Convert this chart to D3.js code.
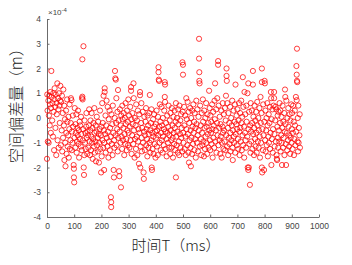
<!DOCTYPE html>
<html>
<head>
<meta charset="utf-8">
<script src="https://cdn.jsdelivr.net/npm/d3@7"></script>
<style>
  body { margin: 0; background: #fff; }
  svg { display: block; }
</style>
</head>
<body>
<svg id="chart" width="352" height="265"></svg>
<script>
// Tick values and axis text
var xTicks = [0, 100, 200, 300, 400, 500, 600, 700, 800, 900, 1000];
var yTicks = [-4, -3, -2, -1, 0, 1, 2, 3, 4];
var xTitle = "时间T（ms）";
var yTitle = "空间偏差量（m）";

// Samples: [time in ms, offset in units of 1e-4 m]
var samples = [
  [0,-1.65],[1,0.95],[2,0.3],[3,-0.95],[5,0.7],[6,-1.0],[7,0.1],[8,0.9],[10,-0.3],[11,0.55],[12,1.05],[14,-0.6],[15,0.4],[16,1.9],[17,0.85],[19,-0.1],[20,0.6],[22,-0.75],[23,1.0],[24,0.25],[26,-1.3],[27,0.75],[28,1.2],[30,0.45],[31,-0.4],[32,0.95],[34,-1.5],[35,0.6],[36,0.15],[38,1.4],[39,-0.9],[40,0.8],[42,0.35],[43,-1.2],[44,1.0],[46,0.5],[47,-0.2],[48,0.7],[49,1.3],
  [51,-1.1],[52,0.65],[54,-0.5],[55,0.9],[56,-1.35],[58,0.2],[59,-0.8],[60,1.15],[62,-0.3],[63,0.5],[64,-1.7],[66,-0.05],[67,-1.0],[68,-1.95],[70,0.3],[71,-0.6],[72,-1.45],[74,0.75],[75,-0.15],[76,-1.15],[78,-0.7],[79,0.05],[80,-1.6],[82,-0.45],[83,0.55],[84,-1.25],[86,-0.9],[87,-0.2],[88,0.8],[90,0.72],[91,-1.3],[92,-0.55],[94,-1.0],[95,0.1],[96,-0.35],[98,-1.9],[99,-2.05],[99,-2.4],[100,-2.6],
  [101,-0.8],[102,0.4],[104,-1.2],[105,-0.25],[106,-0.6],[108,0.15],[109,-1.4],[110,-0.95],[112,-0.4],[113,-0.7],[114,0.3],[116,-1.05],[117,-0.5],[118,-1.6],[120,-0.15],[121,-0.85],[122,-0.3],[124,-1.15],[125,0.05],[126,-0.65],[128,-1.3],[129,0.8],[130,0.86],[130,2.37],[131,0.75],[132,-0.9],[133,-0.45],[134,2.9],[135,-2.0],[136,-2.3],[137,-1.5],[138,-0.1],[140,-1.0],[141,-0.6],[142,-1.25],[144,-0.35],[145,0.2],[146,-0.8],[148,-1.45],[149,-0.55],
  [151,-0.7],[152,-1.2],[154,-0.3],[155,0.35],[156,-0.95],[158,-1.5],[159,-0.5],[160,-0.1],[162,-1.3],[163,-0.75],[164,0.2],[166,-1.0],[167,-0.4],[168,-1.65],[170,-0.85],[171,-0.2],[172,-1.15],[174,0.4],[175,-0.6],[176,-1.4],[178,-0.95],[179,-0.3],[180,-1.75],[182,-0.55],[183,0.05],[184,-1.1],[186,-0.8],[187,-1.35],[188,-0.15],[190,-0.65],[191,-1.8],[192,-1.0],[194,-0.45],[195,0.3],[196,-1.25],[198,-0.7],[199,-2.2],
  [200,-0.35],[201,-1.55],[203,0.6],[204,-0.9],[205,-0.2],[207,-1.2],[208,0.9],[209,-0.5],[210,-2.1],[211,-1.0],[212,1.2],[212,1.05],[214,-0.65],[215,0.1],[216,-1.4],[218,-0.3],[219,0.7],[220,-0.8],[222,-1.15],[223,0.45],[224,-0.55],[226,-1.6],[227,-0.05],[228,-0.95],[230,0.3],[231,-1.3],[232,-0.4],[234,-0.75],[235,-3.2],[236,-3.4],[236,-3.6],[237,0.15],[238,-1.05],[240,-0.25],[241,-1.5],[242,0.5],[244,-0.6],[245,-2.1],[246,-2.4],[247,-0.9],[248,-1.2],[249,0.0],
  [250,1.9],[251,1.6],[253,1.55],[252,-0.7],[254,-0.2],[255,0.8],[256,-1.1],[258,-0.45],[259,0.25],[260,-1.35],[261,1.13],[262,-0.8],[263,-0.1],[265,-2.15],[266,-2.35],[267,-0.55],[268,0.35],[270,-1.0],[271,-0.3],[272,-2.8],[273,0.1],[274,-0.75],[276,-1.25],[277,0.5],[278,-0.05],[280,-0.9],[281,-0.4],[282,0.2],[284,-1.5],[285,-0.65],[286,0.0],[288,-1.05],[289,0.6],[290,-0.25],[292,-0.85],[293,-1.3],[294,0.3],[296,-0.5],[297,-0.15],[298,-1.1],[299,0.75],
  [300,-0.6],[302,0.1],[303,-1.2],[304,-0.35],[306,0.45],[307,-0.9],[309,1.25],[309,1.1],[310,-0.05],[311,-1.45],[313,-0.7],[314,0.2],[315,-0.25],[317,-1.05],[318,1.4],[319,0.8],[320,-0.5],[322,-1.6],[323,0.0],[324,-0.85],[326,-0.3],[327,-1.25],[328,0.55],[330,-0.75],[331,-0.1],[332,-1.5],[334,0.3],[335,-0.95],[336,-0.45],[338,-1.85],[339,0.15],[340,-0.6],[342,1.05],[342,0.92],[343,-2.0],[344,-1.15],[346,-0.2],[347,0.6],[348,-0.8],[349,-1.35],
  [350,-0.4],[352,0.25],[353,-1.0],[355,-2.2],[356,-2.46],[357,-0.55],[358,0.05],[360,-1.3],[361,-0.7],[362,-0.15],[364,0.4],[365,-1.1],[366,-0.45],[368,-0.85],[369,-1.55],[370,0.1],[372,-0.3],[373,-1.2],[374,-0.65],[376,0.2],[377,-1.0],[378,0.93],[379,-0.5],[380,-1.4],[382,-0.2],[383,-0.9],[384,0.35],[385,-2.0],[386,-2.1],[387,-0.6],[388,-1.25],[390,-0.05],[391,-0.75],[392,-1.45],[394,0.15],[395,-0.35],[396,-1.05],[398,-0.55],[399,-1.6],
  [400,-0.25],[401,-0.8],[403,0.3],[404,-1.15],[405,-0.5],[407,-1.5],[408,0.05],[409,-0.7],[410,2.05],[410,1.85],[411,1.55],[412,1.5],[413,-0.35],[414,-1.0],[415,0.55],[417,-0.15],[418,-1.3],[419,-0.6],[421,0.45],[422,-0.9],[423,-0.3],[425,-1.4],[426,0.0],[427,-0.75],[429,-1.1],[430,-0.45],[431,0.3],[433,1.45],[433,0.85],[434,0.65],[434,1.35],[435,-0.55],[436,-1.25],[438,-0.2],[439,-0.85],[440,-1.55],[442,0.1],[443,-0.6],[445,-1.0],[446,-0.35],[447,0.5],[449,-1.2],
  [450,-0.7],[451,-0.1],[453,-1.45],[454,0.2],[455,-0.5],[457,-0.9],[458,-1.2],[459,0.4],[461,-0.3],[462,-0.8],[463,-1.6],[465,0.05],[466,-0.6],[467,-1.05],[469,0.3],[470,-0.4],[471,-1.3],[473,-0.15],[474,0.6],[474,-2.4],[475,-0.75],[477,-1.1],[478,0.0],[479,-0.55],[481,-1.4],[482,0.35],[483,-0.25],[485,-0.95],[486,-1.5],[487,0.5],[489,-0.65],[490,-0.1],[491,-1.2],[493,0.15],[494,-0.8],[495,-0.4],[497,-1.35],[498,2.25],[500,2.15],[500,1.75],[499,0.25],
  [501,-0.6],[502,-1.0],[504,0.45],[505,-0.3],[506,-1.25],[508,0.1],[509,-0.75],[510,-1.5],[512,0.8],[513,-0.45],[514,-0.05],[516,-1.1],[517,0.65],[518,-0.65],[520,-1.4],[521,0.25],[522,-1.8],[523,-0.2],[524,-0.9],[526,0.4],[527,-1.2],[529,-1.95],[528,-0.5],[530,0.0],[531,-0.8],[533,-1.45],[534,0.3],[535,-0.35],[537,-1.05],[538,0.55],[539,-0.6],[541,-0.15],[542,-1.3],[543,0.2],[545,-0.85],[546,-0.4],[547,-1.6],[549,0.7],
  [550,-0.25],[551,-1.0],[553,0.35],[554,-0.7],[555,-1.35],[557,0.05],[558,-0.5],[559,3.2],[559,2.4],[560,1.85],[560,1.5],[561,1.4],[562,-1.15],[563,0.5],[565,-0.3],[566,-0.85],[567,-1.5],[569,0.2],[570,-0.6],[571,-1.1],[573,0.75],[574,-0.15],[575,-0.95],[577,-1.55],[578,0.3],[579,-0.4],[581,-1.25],[582,0.0],[583,-0.75],[585,0.6],[586,-1.0],[587,-0.35],[589,-1.45],[590,0.15],[591,-0.65],[593,-0.2],[594,-1.2],[596,1.1],[597,-0.5],[598,0.4],[599,-0.9],
  [600,-1.3],[601,0.1],[603,-0.6],[604,-0.15],[605,-1.05],[607,0.55],[608,-0.45],[609,-1.6],[611,0.25],[612,-0.8],[613,-0.3],[615,-1.2],[616,0.7],[617,-0.05],[618,1.4],[619,-0.95],[621,-0.5],[622,0.35],[623,-1.4],[625,-0.2],[626,0.8],[627,-0.7],[629,2.3],[629,2.15],[630,-1.1],[631,0.5],[633,-0.4],[634,-0.9],[635,0.05],[637,-1.45],[638,-0.25],[639,-0.75],[641,0.3],[642,-1.6],[643,-1.0],[645,-0.35],[646,0.6],[647,-0.6],[649,-1.25],
  [650,0.15],[651,-0.5],[653,-0.95],[654,0.4],[655,-1.3],[657,-0.1],[658,0.9],[659,-0.7],[660,2.0],[660,1.7],[661,1.5],[662,-1.15],[663,0.6],[665,-0.4],[666,-1.5],[667,0.2],[669,-0.8],[670,-0.2],[671,-1.05],[673,0.45],[674,-0.6],[675,-1.35],[677,0.0],[678,-0.9],[679,-0.3],[681,0.7],[682,-1.2],[683,-1.7],[684,-0.5],[686,0.3],[687,-0.75],[688,-1.0],[690,-0.15],[691,0.55],[692,-1.4],[693,1.35],[694,-0.65],[696,-0.25],[697,0.1],[698,-1.1],[699,-0.45],
  [700,0.35],[702,-0.85],[703,-1.25],[704,-0.1],[706,0.6],[707,-0.55],[708,-1.5],[710,0.2],[711,-0.4],[712,-0.95],[714,0.7],[715,-0.2],[716,-1.3],[718,0.05],[719,-0.7],[720,1.65],[721,-1.1],[722,0.45],[724,-0.35],[725,-1.6],[726,1.05],[728,-0.6],[729,0.15],[730,-0.9],[732,-1.2],[733,0.5],[734,-0.15],[736,-0.75],[737,1.0],[738,-2.0],[740,-2.1],[740,1.4],[741,-0.45],[742,-2.0],[743,0.25],[744,-1.05],[746,-2.7],[747,-0.3],[748,-1.4],[749,0.6],
  [750,-0.55],[751,-0.95],[753,0.3],[754,-0.2],[755,-1.25],[757,1.9],[757,1.35],[758,-0.65],[759,0.05],[761,-1.5],[762,-0.4],[763,0.5],[765,-0.85],[766,-0.1],[767,-1.15],[769,0.25],[770,-0.6],[771,-1.4],[773,0.65],[774,-0.3],[775,-0.95],[777,0.0],[778,-1.2],[779,-0.5],[781,0.4],[782,-0.75],[783,-1.6],[785,0.85],[786,-0.2],[787,-1.0],[789,0.2],[790,2.0],[790,1.45],[790,-2.0],[791,-2.2],[792,-0.45],[794,-1.3],[795,0.55],[796,-0.7],[798,-2.1],[799,-0.15],[800,1.5],[801,1.4],
  [802,-0.9],[803,0.3],[804,-1.35],[806,-0.5],[807,0.0],[808,-1.1],[810,0.6],[811,-0.3],[812,-1.55],[814,-0.75],[815,0.15],[816,-1.0],[818,-0.2],[819,0.45],[820,-1.25],[822,-0.6],[823,1.05],[824,0.8],[825,-1.9],[826,-0.05],[827,-0.85],[829,0.35],[830,-1.4],[831,-0.45],[833,0.5],[835,1.05],[835,0.8],[836,-0.65],[837,-1.15],[839,-0.1],[840,0.45],[841,-0.95],[843,0.35],[844,-1.5],[845,-1.65],[846,-1.7],[847,-0.35],[848,0.1],[849,-0.8],
  [850,-1.2],[851,0.25],[853,-0.5],[854,-0.95],[855,0.6],[857,-0.2],[858,0.3],[859,-1.35],[861,-0.7],[862,0.05],[863,-1.0],[864,-1.9],[865,-0.4],[866,0.5],[868,-1.2],[869,-0.15],[870,-0.8],[872,0.2],[873,-1.5],[874,-0.55],[875,1.15],[876,0.85],[877,-0.25],[878,-1.05],[879,-1.9],[880,0.7],[882,-0.6],[883,-1.3],[884,0.0],[886,-0.9],[887,0.4],[888,-0.35],[890,-1.15],[891,-0.7],[892,0.15],[894,-1.45],[895,-0.1],[896,-0.8],[898,0.55],[899,-1.0],
  [900,-0.45],[901,0.2],[903,-1.25],[904,-0.6],[905,0.5],[907,-0.15],[908,-1.5],[909,-0.85],[911,0.3],[912,-0.3],[913,-1.1],[915,0.85],[916,-0.55],[917,2.1],[918,1.75],[918,0.72],[919,2.8],[919,1.5],[920,1.45],[921,-0.95],[922,0.0],[923,-1.35],[924,0.5],[925,-1.0],[926,-0.4],[928,-0.7],[929,0.15],[930,-1.2]
];

var svg = d3.select("#chart");

// Plot box in pixels
var margin = { left: 47, right: 33, top: 19, bottom: 48 };
var width = 352 - margin.left - margin.right;
var height = 265 - margin.top - margin.bottom;

var x = d3.scaleLinear().domain([0, 1000]).range([0, width]);
var y = d3.scaleLinear().domain([-4, 4]).range([height, 0]);

var g = svg.append("g")
    .attr("transform", "translate(" + margin.left + "," + margin.top + ")");

// Axes with inward ticks, matlab style
var xAxis = d3.axisBottom(x).tickValues(xTicks).tickSizeInner(-2.5).tickSizeOuter(0).tickPadding(6)
    .tickFormat(d3.format("d"));
var yAxis = d3.axisLeft(y).tickValues(yTicks).tickSizeInner(-2.5).tickSizeOuter(0).tickPadding(6)
    .tickFormat(function (d) { return d < 0 ? "-" + Math.abs(d) : d; });

var axisColor = "#6b6b6b";
var tickFont = "Liberation Sans, Arial, sans-serif";

g.append("g")
    .attr("transform", "translate(0," + height + ")")
    .call(xAxis)
    .call(function (a) {
        a.select(".domain").attr("stroke", axisColor);
        a.selectAll(".tick line").attr("stroke", axisColor);
        a.selectAll("text").attr("fill", "#444").style("font-family", tickFont).style("font-size", "8.5px");
    });

g.append("g")
    .call(yAxis)
    .call(function (a) {
        a.select(".domain").attr("stroke", axisColor);
        a.selectAll(".tick line").attr("stroke", axisColor);
        a.selectAll("text").attr("fill", "#444").style("font-family", tickFont).style("font-size", "8.5px");
    });

// Exponent label above the y axis
var expo = g.append("text")
    .attr("x", 1)
    .attr("y", -4)
    .attr("fill", "#444")
    .style("font-family", tickFont)
    .style("font-size", "8px");
expo.append("tspan").text("×10");
expo.append("tspan").attr("dy", -3).style("font-size", "6px").text("-4");

// The scatter circles
g.append("g")
    .selectAll("circle")
    .data(samples)
    .enter()
    .append("circle")
    .attr("cx", function (d) { return x(d[0]); })
    .attr("cy", function (d) { return y(d[1]); })
    .attr("r", 2.6)
    .attr("fill", "none")
    .attr("stroke", "#ff0000")
    .attr("stroke-width", 0.75);

// Axis titles
svg.append("text")
    .attr("x", 176)
    .attr("y", 251)
    .attr("text-anchor", "middle")
    .attr("fill", "#222")
    .style("font-family", "Noto Sans CJK SC, sans-serif")
    .style("font-weight", "300")
    .style("font-size", "15px")
    .text(xTitle);

svg.append("text")
    .attr("transform", "translate(22,102) rotate(-90)")
    .attr("text-anchor", "middle")
    .attr("fill", "#222")
    .style("font-family", "Noto Sans CJK SC, sans-serif")
    .style("font-weight", "300")
    .style("font-size", "15.5px")
    .text(yTitle);
</script>
</body>
</html>
